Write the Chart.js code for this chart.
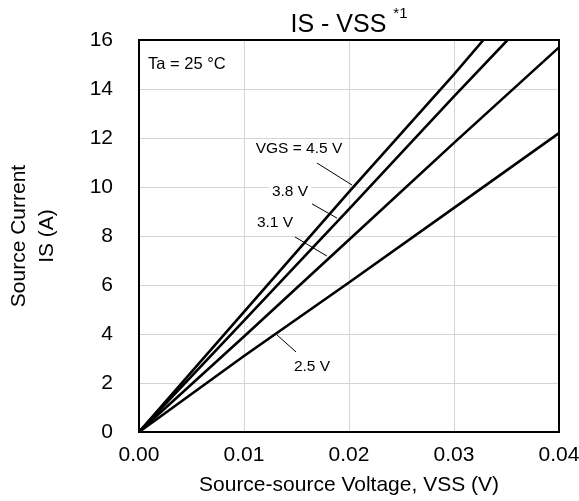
<!DOCTYPE html>
<html>
<head>
<meta charset="utf-8">
<script src="https://cdn.jsdelivr.net/npm/chart.js@4/dist/chart.umd.min.js"></script>
<style>
  html, body { margin: 0; padding: 0; background: #fff; }
</style>
</head>
<body>
<canvas id="chart" width="579" height="501"></canvas>
<script>
// IS - VSS curves, one pair of arrays per gate voltage
const vgs45X = [0, 0.01, 0.02, 0.03, 0.0328];
const vgs45Y = [0, 4.9, 9.8, 14.6, 16];
const vgs38X = [0, 0.01, 0.02, 0.03, 0.0351];
const vgs38Y = [0, 4.55, 9.1, 13.7, 16];
const vgs31X = [0, 0.01, 0.02, 0.03, 0.04];
const vgs31Y = [0, 3.9, 7.85, 11.8, 15.7];
const vgs25X = [0, 0.01, 0.02, 0.03, 0.04];
const vgs25Y = [0, 3.1, 6.1, 9.15, 12.2];

// curve labels (data coords) and their leader lines
const labelText = ['VGS = 4.5 V', '3.8 V', '3.1 V', '2.5 V'];
const labelX = [0.01524, 0.01438, 0.01295, 0.01648];
const labelY = [11.55, 9.8, 8.53, 2.65];
const leaderFrom = [[0.01695, 10.98], [0.01648, 9.31], [0.01486, 7.96], [0.01314, 3.96]];
const leaderTo = [[0.02029, 10.08], [0.01886, 8.73], [0.0179, 7.18], [0.01495, 3.27]];

const FONT = '"Liberation Sans", Arial, sans-serif';

function pts(xs, ys) {
  return xs.map((x, i) => ({ x: x, y: ys[i] }));
}

function line(label, xs, ys) {
  return {
    label: label,
    data: pts(xs, ys),
    borderColor: '#000',
    borderWidth: 2.6,
    pointRadius: 0,
    fill: false,
    tension: 0
  };
}

const extras = {
  id: 'extras',
  afterDatasetsDraw(chart) {
    const ctx = chart.ctx;
    const xs = chart.scales.x, ys = chart.scales.y;
    const a = chart.chartArea;
    ctx.save();

    // frame
    ctx.strokeStyle = '#000';
    ctx.lineWidth = 2;
    ctx.strokeRect(a.left, a.top, a.right - a.left, a.bottom - a.top);

    // leader lines
    ctx.lineWidth = 1;
    for (let i = 0; i < leaderFrom.length; i++) {
      ctx.beginPath();
      ctx.moveTo(xs.getPixelForValue(leaderFrom[i][0]), ys.getPixelForValue(leaderFrom[i][1]));
      ctx.lineTo(xs.getPixelForValue(leaderTo[i][0]), ys.getPixelForValue(leaderTo[i][1]));
      ctx.stroke();
    }

    // curve labels
    ctx.font = '15.5px ' + FONT;
    ctx.textAlign = 'center';
    ctx.textBaseline = 'middle';
    for (let i = 0; i < labelText.length; i++) {
      const px = xs.getPixelForValue(labelX[i]);
      const py = ys.getPixelForValue(labelY[i]);
      const w = ctx.measureText(labelText[i]).width;
      ctx.fillStyle = '#fff';
      ctx.fillRect(px - w / 2 - 3, py - 9, w + 6, 18);
      ctx.fillStyle = '#000';
      ctx.fillText(labelText[i], px, py);
    }

    ctx.textAlign = 'left';
    ctx.font = '16.5px ' + FONT;
    ctx.fillText('Ta = 25 °C', xs.getPixelForValue(0.00086), ys.getPixelForValue(15.0));

    // title with superscript
    const mid = (a.left + a.right) / 2;
    ctx.font = '25px ' + FONT;
    const mainW = ctx.measureText('IS - VSS ').width;
    ctx.font = '15px ' + FONT;
    const supW = ctx.measureText('*1').width;
    const start = mid - (mainW + supW) / 2;
    ctx.textBaseline = 'alphabetic';
    ctx.font = '25px ' + FONT;
    ctx.fillText('IS - VSS ', start, 32);
    ctx.font = '15px ' + FONT;
    ctx.fillText('*1', start + mainW, 18);
    ctx.restore();
  }
};

const ctx = document.getElementById('chart').getContext('2d');
const chart = new Chart(ctx, {
  type: 'line',
  data: {
    datasets: [
      line('4.5 V', vgs45X, vgs45Y),
      line('3.8 V', vgs38X, vgs38Y),
      line('3.1 V', vgs31X, vgs31Y),
      line('2.5 V', vgs25X, vgs25Y)
    ]
  },
  options: {
    responsive: false,
    animation: false,
    devicePixelRatio: 1,
    layout: { padding: { top: 40, right: 0, left: 0, bottom: 0 } },
    plugins: {
      legend: { display: false },
      tooltip: { enabled: false }
    },
    scales: {
      x: {
        type: 'linear',
        min: 0,
        max: 0.04,
        afterFit(s) {
          s.height = 69;
          s.paddingLeft = 0;
          s.paddingRight = 20;
        },
        ticks: {
          stepSize: 0.01,
          padding: 11,
          color: '#000',
          font: { family: FONT, size: 21 },
          callback: v => v.toFixed(2)
        },
        grid: { color: '#d4d4d4', drawTicks: false },
        border: { color: '#000', width: 2 },
        title: {
          display: true,
          text: 'Source-source Voltage, VSS (V)',
          color: '#000',
          font: { family: FONT, size: 21, lineHeight: 1.2 },
          padding: { top: 0, bottom: 3 }
        }
      },
      y: {
        min: 0,
        max: 16,
        afterFit(s) {
          s.width = 139;
          s.paddingTop = 0;
          s.paddingBottom = 0;
        },
        ticks: {
          stepSize: 2,
          padding: 26,
          color: '#000',
          font: { family: FONT, size: 21 }
        },
        grid: { color: '#d4d4d4', drawTicks: false },
        border: { color: '#000', width: 2 },
        title: {
          display: true,
          text: ['Source Current', 'IS (A)'],
          color: '#000',
          font: { family: FONT, size: 21, lineHeight: 1.333 },
          padding: { top: 5.5, bottom: 0 }
        }
      }
    }
  },
  plugins: [extras]
});
</script>
</body>
</html>
